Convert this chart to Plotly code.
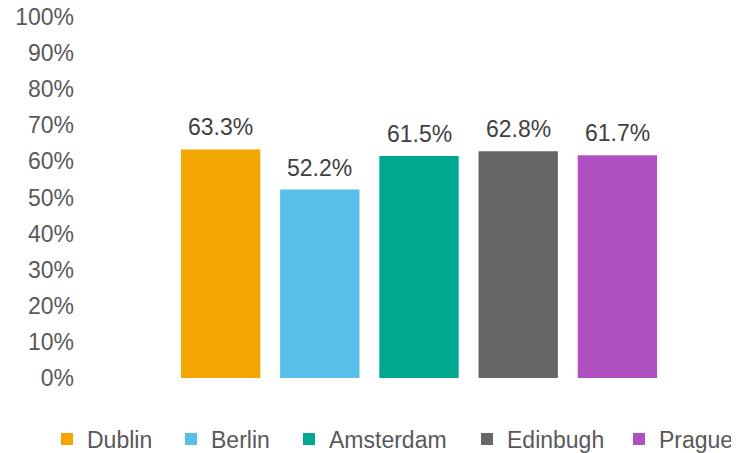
import plotly.graph_objects as go

cities = ["Dublin", "Berlin", "Amsterdam", "Edinbugh", "Prague"]
values = [0.633, 0.522, 0.615, 0.628, 0.617]
colors = ["#F4A600", "#56C0E8", "#00A88F", "#666666", "#B051C1"]
tick_vals = [i / 10 for i in range(11)]
tick_text = [f"{i * 10}%" for i in range(11)]

FONT = "Liberation Sans, Arial, sans-serif"

# page body has an 8px margin, so the figure is laid out 8px up/left
ML, MR, MT, MB = 163, 80, 9, 83
W, H = 739, 453

# left edge (px) of each legend entry box
legend_x_px = [39, 163, 281, 459, 611]
legend_names = ["legend", "legend2", "legend3", "legend4", "legend5"]

fig = go.Figure()
for c, v, col, lg in zip(cities, values, colors, legend_names):
    fig.add_trace(go.Bar(
        x=[c], y=[v], name=c, marker=dict(color=col, line=dict(width=0)),
        hoverinfo="skip", legend=lg,
    ))

for c, v in zip(cities, values):
    fig.add_annotation(
        x=c, y=v, text=f"{v * 100:.1f}%", showarrow=False,
        yanchor="bottom", yshift=7,
        font=dict(family=FONT, size=23, color="#404040"),
    )

legend_style = dict(
    orientation="h", xref="container", yref="container",
    xanchor="left", y=22 / H, yanchor="middle",
    font=dict(family=FONT, size=23, color="#595959"),
    itemclick=False, itemdoubleclick=False,
    bgcolor="rgba(0,0,0,0)",
)
legends = {lg: dict(legend_style, x=px / W) for lg, px in zip(legend_names, legend_x_px)}

fig.update_layout(
    width=W, height=H,
    margin=dict(l=ML, r=MR, t=MT, b=MB, autoexpand=False),
    paper_bgcolor="white", plot_bgcolor="white",
    barmode="overlay", bargap=0.2,
    showlegend=True,
    xaxis=dict(
        type="category", showticklabels=False, showgrid=False,
        zeroline=False, showline=False, ticks="", automargin=False,
    ),
    yaxis=dict(
        range=[0, 1], tickvals=tick_vals, ticktext=tick_text,
        showgrid=False, zeroline=False, showline=False, ticks="",
        tickfont=dict(family=FONT, size=23, color="#595959"),
        ticklabelstandoff=96, automargin=False, ticklabeloverflow="allow",
    ),
    **legends,
)

fig.write_html("out.html")
